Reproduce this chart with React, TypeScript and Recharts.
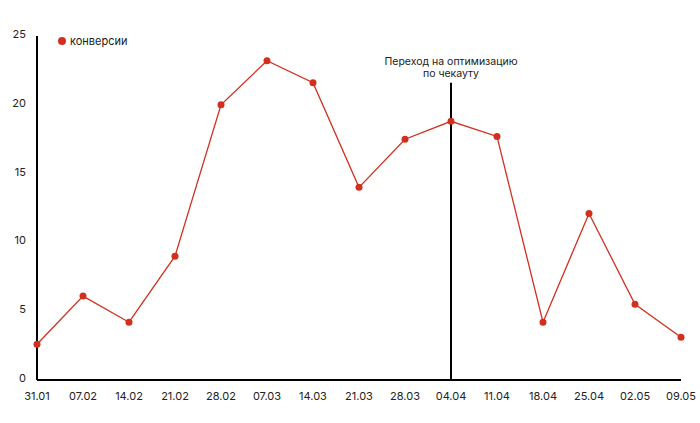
import {
  LineChart,
  Line,
  XAxis,
  YAxis,
  ReferenceLine,
} from 'recharts'

const dates = [
  '31.01', '07.02', '14.02', '21.02', '28.02', '07.03', '14.03', '21.03',
  '28.03', '04.04', '11.04', '18.04', '25.04', '02.05', '09.05',
]
const conversions = [2.6, 6.1, 4.2, 9.0, 20.0, 23.2, 21.6, 14.0, 17.5, 18.8, 17.7, 4.2, 12.1, 5.5, 3.1]
const yTicks = [0, 5, 10, 15, 20, 25]

const markerDate = '04.04'
const markerTop = 21.6
const markerLines = ['Переход на оптимизацию', 'по чекауту']

const RED = '#d1301f'
const FONT = 'Inter, "Noto Sans", sans-serif'

const chartData = dates.map((d, i) => ({ date: d, value: conversions[i] }))

function MarkerLabel(props: any) {
  const { viewBox } = props
  const x = viewBox.x
  const y = viewBox.y
  return (
    <g>
      {markerLines.map((l, i) => (
        <text
          key={i}
          x={x}
          y={y - 18 + i * 12}
          textAnchor="middle"
          fontFamily={FONT}
          fontSize={10.5}
          fill="#1a1a1a"
        >
          {l}
        </text>
      ))}
    </g>
  )
}

export default function App() {
  return (
    <div style={{ position: 'absolute', left: 0, top: 0, width: 700, height: 423, background: '#fff' }}>
      <LineChart width={700} height={423} data={chartData} margin={{ top: 36, right: 19, left: 0, bottom: 13 }}>
        <XAxis
          dataKey="date"
          axisLine={{ stroke: '#000', strokeWidth: 2 }}
          tickLine={false}
          tickMargin={6}
          interval={0}
          tick={{ fontSize: 11, fill: '#222', fontFamily: FONT }}
        />
        <YAxis
          domain={[0, 25]}
          ticks={yTicks}
          width={37}
          axisLine={{ stroke: '#000', strokeWidth: 2 }}
          tickLine={false}
          tickMargin={5}
          tick={{ fontSize: 11, fill: '#222', fontFamily: FONT, dy: -2 }}
        />
        <ReferenceLine
          segment={[
            { x: markerDate, y: 0 },
            { x: markerDate, y: markerTop },
          ]}
          stroke="#000"
          strokeWidth={2}
          label={<MarkerLabel />}
          ifOverflow="visible"
        />
        <Line
          type="linear"
          dataKey="value"
          name="конверсии"
          stroke={RED}
          strokeWidth={1.3}
          dot={{ r: 3.5, fill: RED, stroke: RED, strokeWidth: 0 }}
          activeDot={false}
          isAnimationActive={false}
        />
      </LineChart>
      <div
        style={{
          position: 'absolute',
          left: 58,
          top: 34,
          display: 'flex',
          alignItems: 'center',
          fontFamily: FONT,
          fontSize: 11,
          color: '#1a1a1a',
        }}
      >
        <span
          style={{ width: 8, height: 8, borderRadius: 4, background: RED, display: 'inline-block', marginRight: 4 }}
        />
        конверсии
      </div>
    </div>
  )
}
